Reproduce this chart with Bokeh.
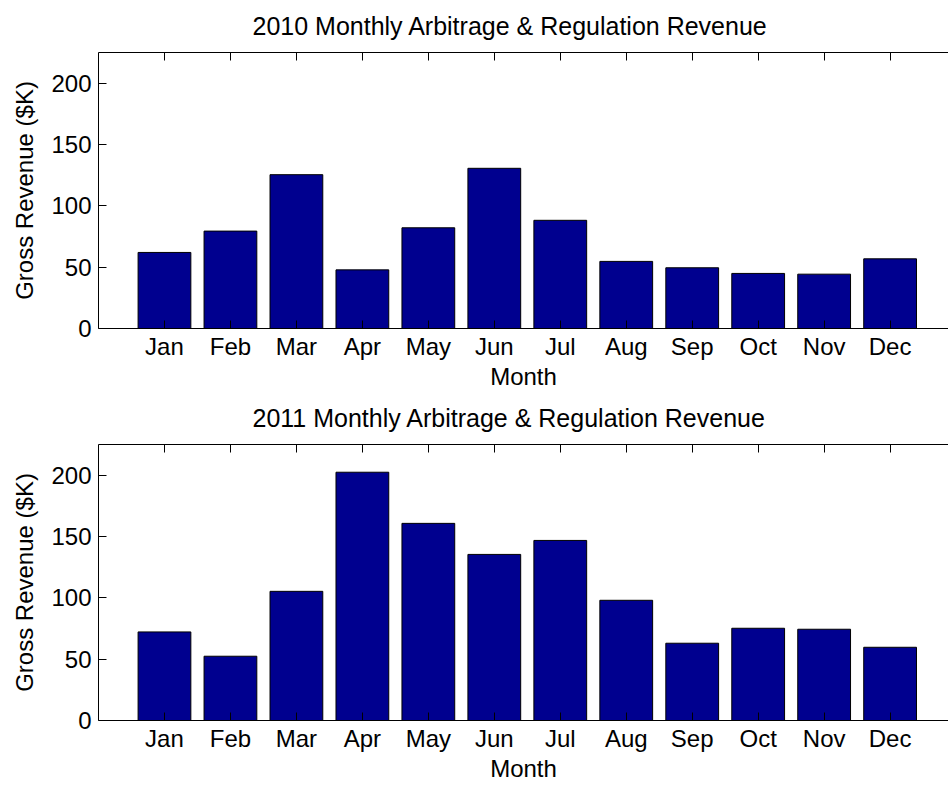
from bokeh.plotting import figure
from bokeh.models import Range1d, FixedTicker, LinearAxis, CustomJSTickFormatter
from bokeh.layouts import column
from bokeh.embed import file_html
from bokeh.resources import INLINE

months = ["Jan", "Feb", "Mar", "Apr", "May", "Jun",
          "Jul", "Aug", "Sep", "Oct", "Nov", "Dec"]
rev_2010 = [62.0, 79.4, 125.4, 47.8, 82.1, 130.6, 88.2, 54.7, 49.5, 44.9, 44.3, 56.8]
rev_2011 = [72.2, 52.4, 105.3, 202.4, 160.7, 135.4, 146.8, 98.0, 63.0, 75.2, 74.4, 59.7]
y_ticks = [0, 50, 100, 150, 200]
titles = ["2010 Monthly Arbitrage & Regulation Revenue",
          "2011 Monthly Arbitrage & Regulation Revenue"]
x_label = "Month"
y_label = "Gross Revenue ($K)"

FONT = "Liberation Sans"
FS = "24px"
BAR = "#00008F"

x_pos = list(range(1, len(months) + 1))
overrides = {x: m for x, m in zip(x_pos, months)}


def make(title, vals, bottom):
    p = figure(frame_width=850, frame_height=276,
               x_range=Range1d(0, 12.885), y_range=Range1d(0, 225),
               output_backend="svg", toolbar_location=None,
               min_border_left=98, min_border_right=0,
               min_border_top=52, min_border_bottom=bottom,
               background_fill_color="white", border_fill_color="white")
    p.outline_line_color = None
    p.grid.visible = False
    p.vbar(x=x_pos, top=vals, width=0.8, fill_color=BAR,
           line_color="black", line_width=1)

    p.title.text = title
    p.title.text_font = FONT
    p.title.text_font_size = "25px"
    p.title.text_font_style = "normal"
    p.title.text_color = "black"
    p.title.align = "left"
    p.title.offset = 154
    p.title.standoff = 22
    p.title.vertical_align = "top"

    xa = p.xaxis[0]
    xa.ticker = FixedTicker(ticks=x_pos)
    xa.major_label_overrides = overrides
    xa.axis_label = x_label
    ya = p.yaxis[0]
    ya.ticker = FixedTicker(ticks=y_ticks)
    ya.axis_label = y_label

    top = LinearAxis(ticker=FixedTicker(ticks=x_pos),
                     formatter=CustomJSTickFormatter(code="return ''"),
                     major_label_standoff=0, axis_label_standoff=0)
    p.add_layout(top, "above")

    for ax in [xa, ya, top]:
        ax.axis_line_color = "black"
        ax.axis_line_width = 1
        ax.major_tick_line_color = "black"
        ax.major_tick_in = 8
        ax.major_tick_out = 0
        ax.minor_tick_line_color = None
    for ax in [xa, ya]:
        ax.major_label_text_font = FONT
        ax.major_label_text_font_size = FS
        ax.major_label_text_color = "black"
        ax.major_label_standoff = 7
        ax.axis_label_text_font = FONT
        ax.axis_label_text_font_size = FS
        ax.axis_label_text_font_style = "normal"
        ax.axis_label_text_color = "black"
    xa.major_label_standoff = 4
    xa.axis_label_standoff = 0
    ya.axis_label_standoff = 10
    return p


p1 = make(titles[0], rev_2010, 64)
p2 = make(titles[1], rev_2011, 57)
layout = column(p1, p2, spacing=0)

open("out.html", "w").write(file_html(layout, INLINE))
